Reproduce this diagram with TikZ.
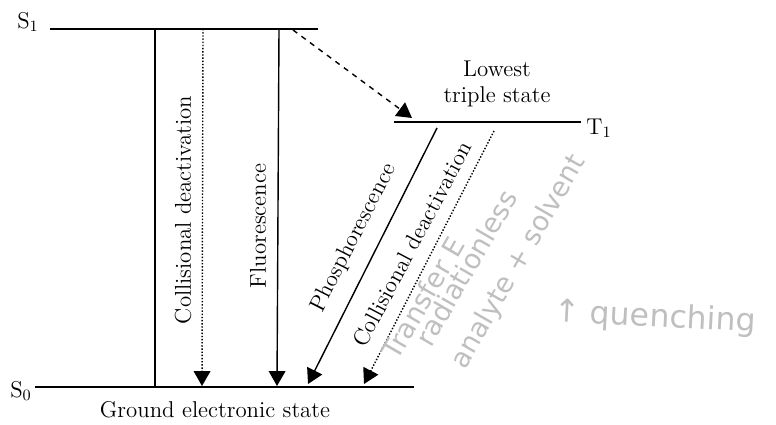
\documentclass[tikz,border=0pt]{standalone}
\usepackage{fontspec}
\newfontfamily\pencilfont{DejaVu Sans}
\usetikzlibrary{arrows.meta, positioning}
\begin{document}
\begin{tikzpicture}[x=0.02cm, y=-0.02cm,
    level/.style={line width=1.1pt},
    trans/.style={line width=0.8pt, -{Triangle[length=8.5pt, width=9.5pt]}},
    label/.style={font=\fontsize{13}{15}\selectfont, inner sep=1pt},
    pencil/.style={font=\pencilfont\fontsize{15.5}{17}\selectfont, text=gray!50, inner sep=0pt}]
    \useasboundingbox (0,0) rectangle (776,425);
    % Energy levels
    \coordinate (s1l) at (50,29);   \coordinate (s1r) at (318,29);
    \coordinate (t1l) at (394,122); \coordinate (t1r) at (581,122);
    \coordinate (s0l) at (35,387);  \coordinate (s0r) at (414,387);
    \draw[level] (s1l) -- (s1r);
    \draw[level] (t1l) -- (t1r);
    \draw[level] (s0l) -- (s0r);
    \node[label] (s1) at (28,22) {S$_1$};
    \node[label] (t1) at (599,128) {T$_1$};
    \node[label] (s0) at (21,391) {S$_0$};
    \node[label, align=center] (lowest) at (497,84) {Lowest\\triple state};
    \node[label] (ground) at (215,410) {Ground electronic state};
    % Transitions from S1
    \coordinate (a1) at (155,29);  \coordinate (b1) at (155,387);
    \coordinate (a2) at (203,29);  \coordinate (b2) at (202,386);
    \coordinate (a3) at (279,29);  \coordinate (b3) at (277,386);
    \coordinate (a4) at (293,30);  \coordinate (b4) at (412,118);
    \draw[line width=0.8pt] (a1) -- (b1);
    \draw[trans, densely dotted] (a2) -- (b2);
    \draw[trans] (a3) -- (b3);
    \draw[trans, dashed] (a4) -- (b4);
    \node[label, rotate=90] (coll1) at (183,210) {Collisional deactivation};
    \node[label, rotate=90] (fluor) at (258,226) {Fluorescence};
    % Transitions from T1
    \coordinate (a5) at (437,128); \coordinate (b5) at (308,384);
    \coordinate (a6) at (494,131); \coordinate (b6) at (364,384);
    \draw[trans] (a5) -- (b5);
    \draw[trans, densely dotted] (a6) -- (b6);
    \node[label, rotate=63] (phos) at (354,238) {Phosphorescence};
    \node[label, rotate=62] (coll2) at (412,244) {Collisional deactivation};
    % Pencil notes
    \node[pencil, rotate=60] (note1) at (423,298) {Transfer E};
    \node[pencil, rotate=60] (note2) at (466,268) {radiationless};
    \node[pencil, rotate=60] (note3) at (519,262) {analyte + solvent};
    \node[pencil, rotate=-3, font=\pencilfont\fontsize{18}{20}\selectfont] (note4) at (655,318) {↑ quenching};
\end{tikzpicture}
\end{document}
